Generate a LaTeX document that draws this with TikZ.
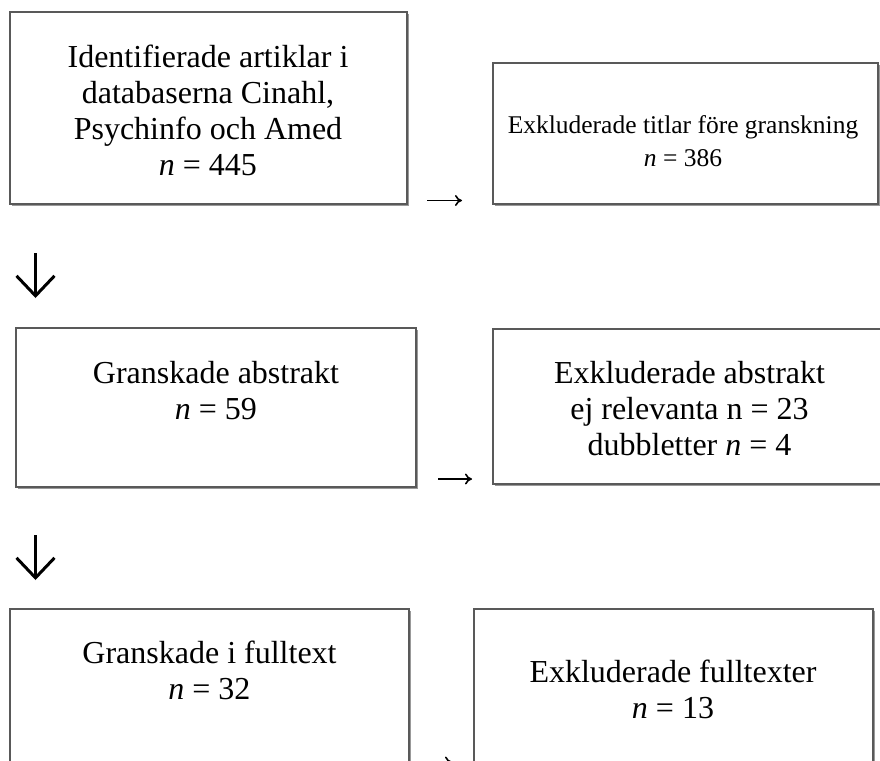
\documentclass[tikz,border=0pt]{standalone}
\usepackage{fontspec}
\setmainfont{Liberation Serif}
\usetikzlibrary{arrows.meta,positioning,shadows}

\begin{document}
\begin{tikzpicture}[x=1pt, y=-1pt, every node/.style={align=center, inner sep=0pt}, box/.style={rectangle, draw=black!65, line width=1.2pt, fill=white, drop shadow={shadow xshift=1.6pt, shadow yshift=-1.6pt, fill=black!40, opacity=1}}, boxtext/.style={font=\fontsize{32}{36}\selectfont}, smalltext/.style={font=\fontsize{25.5}{33}\selectfont}, sidearrow/.style={line width=1.6pt, -{To[length=7pt, width=11pt]}}, downarrow/.style={line width=3pt, -{Straight Barb[length=20pt, width=38pt]}}]
\useasboundingbox (0,0) rectangle (880,760);
\clip (0,0) rectangle (880,760);
\node[box, minimum width=397pt, minimum height=192pt] (ident) at (208.5,108) {};
\node[box, minimum width=385pt, minimum height=141pt] (extitle) at (685.5,133.5) {};
\node[box, minimum width=400pt, minimum height=159pt] (abstr) at (216,407.5) {};
\node[box, minimum width=394pt, minimum height=155pt] (exabstr) at (690,406.5) {};
\node[box, minimum width=399pt, minimum height=200pt] (fulltx) at (209.5,709) {};
\node[box, minimum width=399pt, minimum height=200pt] (exfull) at (673.5,709) {};
\node[boxtext] (identtxt) at (208,110) {Identifierade artiklar i\\databaserna Cinahl,\\Psychinfo och Amed\\\textit{n} = 445};
\node[smalltext] (extitletxt) at (683,141) {Exkluderade titlar före granskning\\\textit{n} = 386};
\node[boxtext] (abstrtxt) at (216,390.5) {Granskade abstrakt\\\textit{n} = 59};
\node[boxtext] (exabstrtxt) at (689.5,409) {Exkluderade abstrakt\\ej relevanta n = 23\\dubbletter \textit{n} = 4};
\node[boxtext] (fulltxtxt) at (209.5,670.5) {Granskade i fulltext\\\textit{n} = 32};
\node[boxtext] (exfulltxt) at (673,689.5) {Exkluderade fulltexter\\\textit{n} = 13};
% pilar
\coordinate (r1a) at (427,200.5);
\coordinate (r1b) at (462,200.5);
\coordinate (r2a) at (438,479);
\coordinate (r2b) at (472,479);
\coordinate (r3a) at (417,762);
\coordinate (r3b) at (452,762);
\coordinate (d1a) at (35.5,253);
\coordinate (d1b) at (35.5,298);
\coordinate (d2a) at (35.5,535);
\coordinate (d2b) at (35.5,580);
\draw[sidearrow] (r1a) -- (r1b);
\draw[sidearrow] (r2a) -- (r2b);
\draw[sidearrow] (r3a) -- (r3b);
\draw[downarrow] (d1a) -- (d1b);
\draw[downarrow] (d2a) -- (d2b);
\end{tikzpicture}
\end{document}
